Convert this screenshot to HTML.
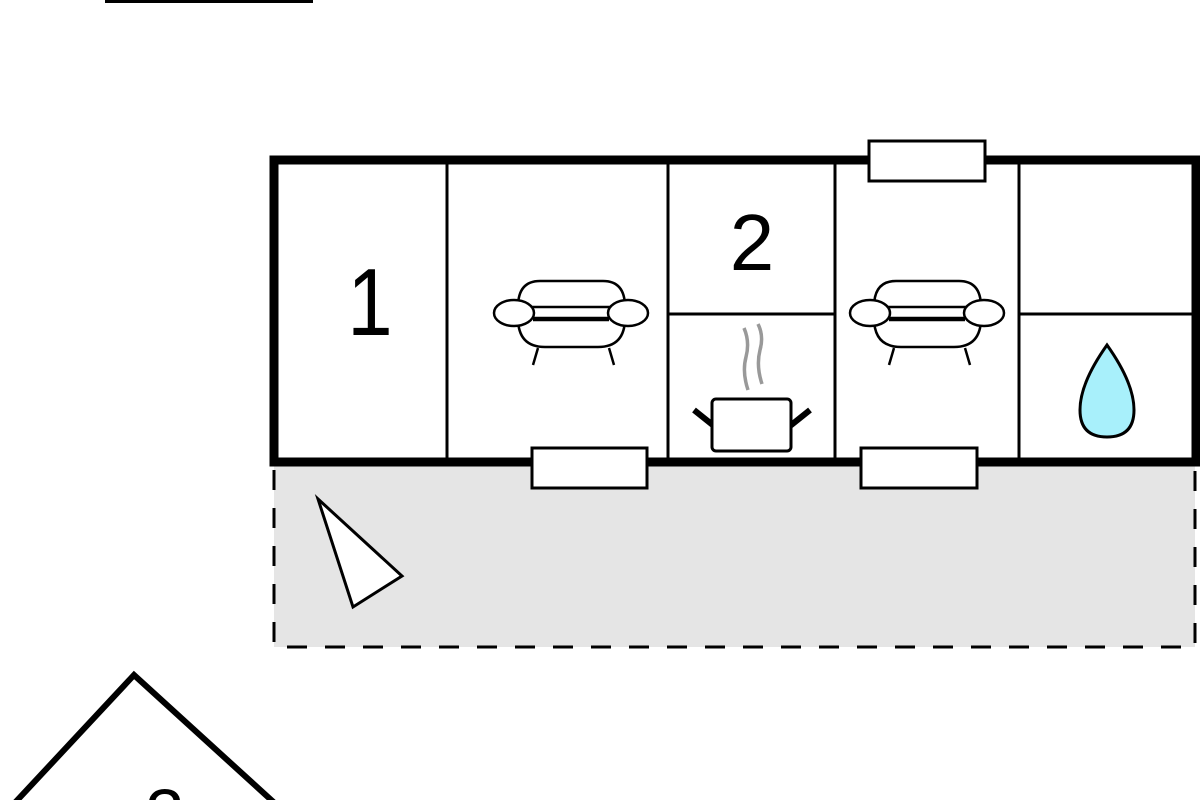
<!DOCTYPE html>
<html><head><style>html,body{margin:0;padding:0;background:#fff;overflow:hidden;width:1200px;height:800px;}svg{display:block;}</style></head>
<body>
<svg width="1200" height="800" viewBox="0 0 1200 800" xmlns="http://www.w3.org/2000/svg" style="overflow:hidden">
<rect x="0" y="0" width="1200" height="800" fill="#fff"/>
<rect x="105" y="-2" width="208" height="5" fill="#000"/>
<rect x="274" y="466" width="921" height="181" fill="#e5e5e5"/>
<path d="M274 470 V647 H1195 V470" fill="none" stroke="#000" stroke-width="3" stroke-dasharray="20,18"/>
<rect x="274" y="160" width="922" height="302" fill="#fff"/>
<g stroke="#000" stroke-width="3">
<line x1="447" y1="160" x2="447" y2="462"/>
<line x1="668" y1="160" x2="668" y2="462"/>
<line x1="835" y1="160" x2="835" y2="462"/>
<line x1="1019" y1="160" x2="1019" y2="462"/>
<line x1="668" y1="314" x2="835" y2="314"/>
<line x1="1019" y1="314" x2="1196" y2="314"/>
</g>
<rect x="274" y="160" width="922" height="302" fill="none" stroke="#000" stroke-width="9"/>
<g fill="#fff" stroke="#000" stroke-width="3">
<rect x="869" y="141" width="116" height="40"/>
<rect x="532" y="448" width="115" height="40"/>
<rect x="861" y="448" width="116" height="40"/>
</g>
<text x="370" y="335" font-family="Liberation Sans, sans-serif" font-size="96" text-anchor="middle" transform="translate(370 0) scale(0.85 1) translate(-370 0)">1</text>
<text x="752" y="270" font-family="Liberation Sans, sans-serif" font-size="80" text-anchor="middle">2</text>
<g id="sofa" fill="#fff" stroke="#000" stroke-width="2.5">
<path d="M518 318 Q518 347 545 347 H598 Q625 347 625 318 Z"/>
<path d="M518 307 Q518 281 540 281 H603 Q625 281 625 307 Z"/>
<ellipse cx="514" cy="313" rx="20" ry="13"/>
<ellipse cx="628" cy="313" rx="20" ry="13"/>
<line x1="533" y1="320" x2="609" y2="320"/>
<line x1="538" y1="348" x2="533" y2="365"/>
<line x1="609" y1="348" x2="614" y2="365"/>
</g>
<use href="#sofa" transform="translate(356,0)"/>
<path d="M748 390 Q742 372 746 357 Q750 342 744 328 M762 384 Q756 366 760 350 Q764 336 758 324" fill="none" stroke="#999" stroke-width="3.5"/>
<line x1="694" y1="410" x2="714" y2="426" stroke="#000" stroke-width="6"/>
<line x1="810" y1="410" x2="790" y2="426" stroke="#000" stroke-width="6"/>
<rect x="712" y="399" width="79" height="52" rx="4" fill="#fff" stroke="#000" stroke-width="3"/>
<path d="M1107 345 Q1080 383 1080 410 Q1080 437 1107 437 Q1134 437 1134 410 Q1134 383 1107 345 Z" fill="#a8f0fb" stroke="#000" stroke-width="3"/>
<polygon points="318,499 402,576 353,607" fill="#fff" stroke="#000" stroke-width="3"/>
<polyline points="10,808 134,675 280,808" fill="none" stroke="#000" stroke-width="6"/>
<text x="165" y="838" font-family="Liberation Sans, sans-serif" font-size="70" text-anchor="middle">3</text>
</svg>
</body></html>
